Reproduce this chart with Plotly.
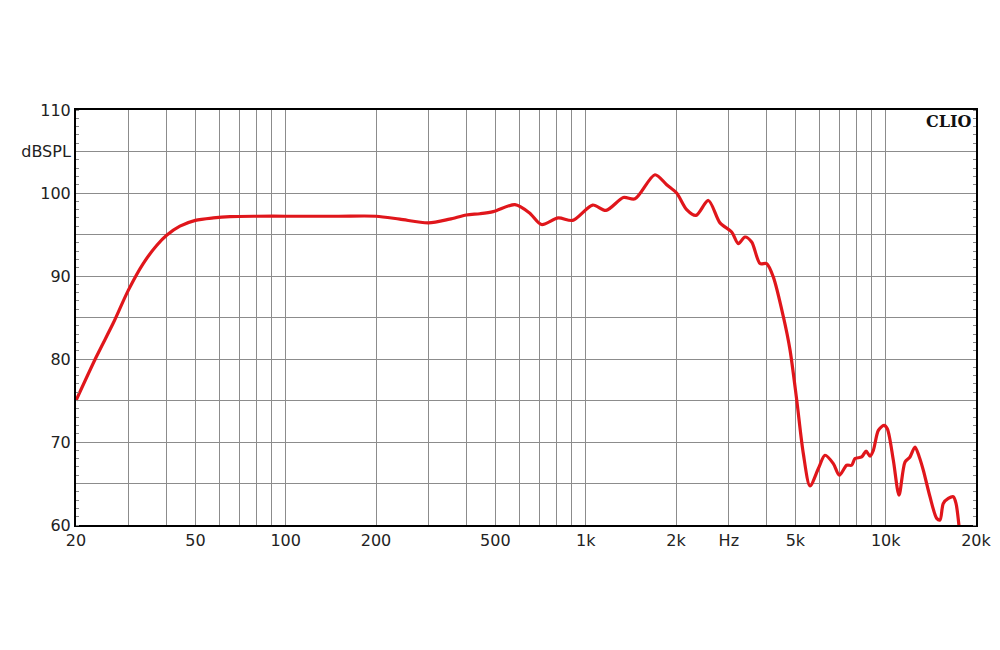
import plotly.graph_objects as go

# Frequency response data (Hz, dB SPL)
freq = [20, 23.4, 26.6, 29.9, 33.5, 37.2, 40.1, 44.4, 50, 57.4, 65.2, 80, 100, 150, 200,
        240, 299, 352, 400, 444, 492, 581, 650, 713, 810, 905, 1055, 1169, 1335, 1460,
        1702, 1862, 2010, 2170, 2332, 2564, 2804, 3066, 3228, 3396, 3575, 3811, 4010,
        4220, 4559, 4798, 5050, 5314, 5594, 5965, 6276, 6690, 7008, 7414, 7701, 7902,
        8318, 8600, 8866, 9096, 9453, 9870, 10126, 10604, 11077, 11600, 12052, 12524,
        12942, 13348, 14050, 14792, 15172, 15560, 16172, 16804, 17154, 17598]
spl = [75.0, 80.3, 84.3, 88.3, 91.5, 93.7, 94.9, 96.0, 96.7, 97.0, 97.15, 97.2, 97.2, 97.2, 97.2,
       96.85, 96.4, 96.85, 97.35, 97.5, 97.75, 98.6, 97.6, 96.2, 97.0, 96.7, 98.55, 97.9, 99.45, 99.3,
       102.2, 101.0, 100.0, 98.0, 97.3, 99.1, 96.4, 95.3, 93.9, 94.7, 94.1, 91.5, 91.5,
       89.9, 85.1, 81.1, 75.1, 68.6, 64.7, 66.8, 68.4, 67.4, 66.0, 67.2, 67.2, 68.0,
       68.2, 68.9, 68.3, 69.0, 71.4, 72.0, 71.6, 67.8, 63.6, 67.6, 68.2, 69.4,
       68.2, 66.6, 63.4, 60.8, 60.6, 62.6, 63.2, 63.4, 62.6, 59.5]

# Axis ticks
x_grid = [20, 30, 40, 50, 60, 70, 80, 90, 100, 200, 300, 400, 500, 600, 700, 800, 900,
          1000, 2000, 3000, 4000, 5000, 6000, 7000, 8000, 9000, 10000, 20000]
x_labels = {20: "20", 50: "50", 100: "100", 200: "200", 500: "500", 1000: "1k",
            2000: "2k", 3000: "Hz", 5000: "5k", 10000: "10k", 20000: "20k"}
y_grid = [60, 65, 70, 75, 80, 85, 90, 95, 100, 105, 110]
y_labels = {60: "60", 70: "70", 80: "80", 90: "90", 100: "100", 105: "dBSPL", 110: "110"}

fig = go.Figure()
fig.add_trace(go.Scatter(
    x=freq, y=spl, mode="lines",
    line=dict(color="#e0161b", width=3.2, shape="spline", smoothing=0.8),
    showlegend=False, hoverinfo="x+y",
))

fig.update_layout(
    width=1000, height=650,
    margin=dict(l=68, r=32, t=102, b=133),
    paper_bgcolor="white", plot_bgcolor="white",
    font=dict(family="DejaVu Sans, Liberation Sans, Arial, sans-serif", size=16, color="#222"),
    annotations=[dict(
        x=1, y=1, xref="paper", yref="paper", xanchor="right", yanchor="top",
        xshift=-3, yshift=0, showarrow=False, text="<b>CLIO</b>",
        font=dict(family="DejaVu Serif, Liberation Serif, serif", size=16, color="#111"),
    )],
)

fig.update_xaxes(
    type="log", range=[1.30103, 4.30103],
    tickvals=x_grid, ticktext=[x_labels.get(v, "") for v in x_grid],
    showgrid=True, gridcolor="#8c8c8c", gridwidth=1,
    showline=True, linecolor="black", linewidth=2, mirror=True,
    ticks="", zeroline=False, tickfont=dict(size=16, color="#222"),
)
fig.update_yaxes(
    range=[60, 110],
    tickvals=y_grid, ticktext=[y_labels.get(v, "") for v in y_grid],
    showgrid=True, gridcolor="#8c8c8c", gridwidth=1,
    showline=True, linecolor="black", linewidth=2, mirror="allticks",
    ticks="", zeroline=False, tickfont=dict(size=16, color="#222"),
    minor=dict(ticks="inside", dtick=1, ticklen=3, tickcolor="#888", showgrid=False),
)

fig.write_html("out.html")
